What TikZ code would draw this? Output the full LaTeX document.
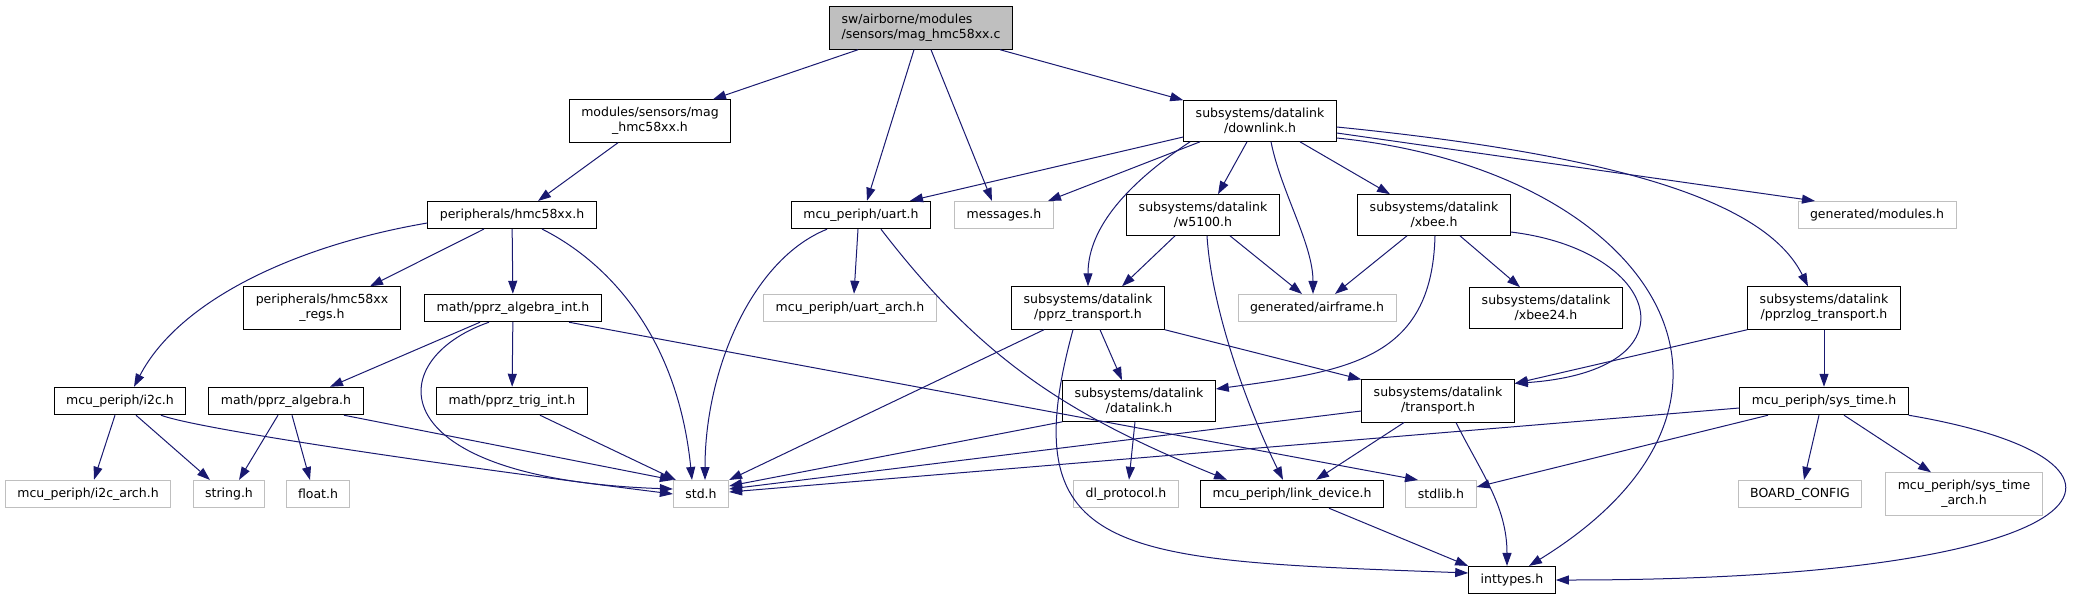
\documentclass[tikz,border=0pt]{standalone}
\usepackage{fontspec}
\setmainfont{DejaVu Sans}
\usepackage{tikz}
\usetikzlibrary{arrows.meta}
\definecolor{incblue}{RGB}{25,25,112}
\definecolor{extgray}{RGB}{191,191,191}
\tikzset{
  hdr/.style={draw=black, fill=white, line width=1pt, align=center, inner xsep=12pt,
    inner ysep=7.5pt, minimum height=27pt, font=\fontsize{12.5}{15}\selectfont},
  exthdr/.style={hdr, draw=extgray},
  srcfile/.style={hdr, fill=extgray, align=left},
  incarr/.style={-{Triangle[length=13pt,width=9pt]}, line width=1pt, incblue}
}
\begin{document}
\begin{tikzpicture}[x=1pt,y=-1pt]
        \useasboundingbox (0,0) rectangle (2073,600);
        \node[srcfile] (src) at (921,28) {sw/airborne/modules\\/sensors/mag\_hmc58xx.c};

        \node[hdr] (maghdr) at (650,121) {modules/sensors/mag\\\_hmc58xx.h};
        \node[hdr] (downlink) at (1260,121) {subsystems/datalink\\/downlink.h};

        \node[hdr] (hmc) at (512,215) {peripherals/hmc58xx.h};
        \node[hdr] (uart) at (861,215) {mcu\_periph/uart.h};
        \node[exthdr] (messages) at (1004,215) {messages.h};
        \node[hdr] (wfive) at (1203,215) {subsystems/datalink\\/w5100.h};
        \node[hdr] (xbee) at (1434,215) {subsystems/datalink\\/xbee.h};
        \node[exthdr] (genmods) at (1877,215) {generated/modules.h};

        \node[hdr] (regs) at (322,308) {peripherals/hmc58xx\\\_regs.h};
        \node[hdr] (algint) at (513,308) {math/pprz\_algebra\_int.h};
        \node[exthdr] (uartarch) at (850,308) {mcu\_periph/uart\_arch.h};
        \node[hdr] (pprztr) at (1088,308) {subsystems/datalink\\/pprz\_transport.h};
        \node[exthdr] (airframe) at (1317,308) {generated/airframe.h};
        \node[hdr] (xbeetf) at (1546,308) {subsystems/datalink\\/xbee24.h};
        \node[hdr] (pprzlog) at (1824,308) {subsystems/datalink\\/pprzlog\_transport.h};

        \node[hdr] (i2c) at (120,401) {mcu\_periph/i2c.h};
        \node[hdr] (algebra) at (286,401) {math/pprz\_algebra.h};
        \node[hdr] (trigint) at (512,401) {math/pprz\_trig\_int.h};
        \node[hdr] (datalink) at (1139,401) {subsystems/datalink\\/datalink.h};
        \node[hdr] (transport) at (1438,401) {subsystems/datalink\\/transport.h};
        \node[hdr] (systime) at (1824,401) {mcu\_periph/sys\_time.h};

        \node[exthdr] (i2carch) at (88,494) {mcu\_periph/i2c\_arch.h};
        \node[exthdr] (string) at (229,494) {string.h};
        \node[exthdr] (float) at (318,494) {float.h};
        \node[exthdr] (std) at (701,494) {std.h};
        \node[exthdr] (dlproto) at (1126,494) {dl\_protocol.h};
        \node[hdr] (linkdev) at (1292,494) {mcu\_periph/link\_device.h};
        \node[exthdr] (stdlib) at (1441,494) {stdlib.h};
        \node[exthdr] (board) at (1800,494) {BOARD\_CONFIG};
        \node[exthdr] (systimearch) at (1964,494) {mcu\_periph/sys\_time\\\_arch.h};

        \node[hdr] (inttypes) at (1512,580) {inttypes.h};

        \draw[incarr] ([xshift=-63pt]src.south) -- ([xshift=63pt]maghdr.north);
        \draw[incarr] ([xshift=-7pt]src.south) -- ([xshift=6pt]uart.north);
        \draw[incarr] ([xshift=10pt]src.south) -- ([xshift=-12pt]messages.north);
        \draw[incarr] ([xshift=79pt]src.south) -- (downlink.north west);

        \draw[incarr] ([xshift=-32pt]maghdr.south) -- ([xshift=26pt]hmc.north);

        \draw[incarr] ([yshift=-16pt]downlink.west) -- ([xshift=49pt]uart.north);
        \draw[incarr] ([xshift=-60pt]downlink.south) -- ([xshift=44pt]messages.north);
        \draw[incarr] ([xshift=-70pt]downlink.south) .. controls +(-60,40) and +(0,-60) .. (pprztr.north);
        \draw[incarr] ([xshift=-13pt]downlink.south) -- ([xshift=15pt]wfive.north);
        \draw[incarr] ([xshift=11pt]downlink.south) .. controls +(10,50) and +(0,-50) .. ([xshift=-4pt]airframe.north);
        \draw[incarr] ([xshift=40pt]downlink.south) -- ([xshift=-44pt]xbee.north);
        \draw[incarr] ([yshift=-12pt]downlink.east) -- ([xshift=-62pt]genmods.north);
        \draw[incarr] ([yshift=-6pt]downlink.east) .. controls +(300,30) and +(-40,-80) .. ([xshift=-16pt]pprzlog.north);
        \draw[incarr] ([yshift=-17pt]downlink.east) .. controls +(314,32) and +(271,-167) .. ([xshift=17pt]inttypes.north);

        \draw[incarr] ([yshift=-8pt]hmc.west) .. controls +(-129,22) and +(46,-88) .. ([xshift=14pt]i2c.north);
        \draw[incarr] ([xshift=-28pt]hmc.south) -- ([xshift=48pt]regs.north);
        \draw[incarr] (hmc) -- (algint);
        \draw[incarr] ([xshift=30pt]hmc.south) .. controls +(60,30) and +(-15,-150) .. ([xshift=-9pt]std.north);

        \draw[incarr] ([xshift=-34pt]uart.south) .. controls +(-75,30) and +(0,-110) .. ([xshift=4pt]std.north);
        \draw[incarr] ([xshift=-3pt]uart.south) -- ([xshift=4pt]uartarch.north);
        \draw[incarr] ([xshift=20pt]uart.south) .. controls +(100,130) and +(-160,-65) .. ([xshift=-65pt]linkdev.north);

        \draw[incarr] ([xshift=-28pt]wfive.south) -- ([xshift=34pt]pprztr.north);
        \draw[incarr] ([xshift=27pt]wfive.south) -- ([xshift=-15pt]airframe.north);
        \draw[incarr] ([xshift=4pt]wfive.south) .. controls +(5,80) and +(-30,-60) .. ([xshift=-9pt]linkdev.north);

        \draw[incarr] ([xshift=-27pt]xbee.south) -- ([xshift=18pt]airframe.north);
        \draw[incarr] ([xshift=1pt]xbee.south) .. controls +(-3,124) and +(132,-18) .. ([yshift=12pt]datalink.east);
        \draw[incarr] ([xshift=26pt]xbee.south) -- ([xshift=-26pt]xbeetf.north);
        \draw[incarr] ([yshift=-17pt]xbee.east) .. controls +(150,18) and +(185,-13) .. ([yshift=-4pt]transport.north east);

        \draw[incarr] ([xshift=-44pt]pprztr.south) -- (std.north east);
        \draw[incarr] ([xshift=-15pt]pprztr.south) .. controls +(-63,230) and +(-348,-13) .. ([yshift=7pt]inttypes.west);
        \draw[incarr] ([xshift=12pt]pprztr.south) -- ([xshift=-17pt]datalink.north);
        \draw[incarr] (pprztr.south east) -- (transport.north west);

        \draw[incarr] (datalink.south west) -- ([yshift=8pt]std.east);
        \draw[incarr] ([xshift=-4pt]datalink.south) -- ([xshift=3pt]dlproto.north);

        \draw[incarr] ([yshift=-10pt]transport.west) -- ([yshift=5pt]std.east);
        \draw[incarr] ([xshift=-34pt]transport.south) -- ([xshift=24pt]linkdev.north);
        \draw[incarr] ([xshift=18pt]transport.south) .. controls +(25,50) and +(0,-60) .. ([xshift=-5pt]inttypes.north);

        \draw[incarr] (pprzlog.south west) -- ([yshift=-4pt]transport.north east);
        \draw[incarr] (pprzlog) -- (systime);

        \draw[incarr] ([xshift=-5pt]i2c.south) -- ([xshift=6pt]i2carch.north);
        \draw[incarr] ([xshift=16pt]i2c.south) -- ([xshift=-19pt]string.north);
        \draw[incarr] ([xshift=41pt]i2c.south) .. controls +(40,15) and +(-200,-25) .. (std.west);

        \draw[incarr] ([xshift=-8pt]algebra.south) -- ([xshift=10pt]string.north);
        \draw[incarr] ([xshift=6pt]algebra.south) -- ([xshift=-8pt]float.north);
        \draw[incarr] ([xshift=58pt]algebra.south) -- (std.north west);

        \draw[incarr] ([xshift=-33pt]algint.south) -- ([xshift=44pt]algebra.north);
        \draw[incarr] ([xshift=-24pt]algint.south) .. controls +(-109,38) and +(-294,-10) .. ([yshift=5pt]std.west);
        \draw[incarr] (algint) -- (trigint);
        \draw[incarr] ([xshift=56pt]algint.south) -- ([xshift=-23pt]stdlib.north);

        \draw[incarr] ([xshift=28pt]trigint.south) -- ([xshift=3pt]std.north west);

        \draw[incarr] ([yshift=-7pt]systime.west) -- ([yshift=2pt]std.east);
        \draw[incarr] ([xshift=-56pt]systime.south) -- ([yshift=7pt]stdlib.east);
        \draw[incarr] ([xshift=-5pt]systime.south) -- ([xshift=4pt]board.north);
        \draw[incarr] ([xshift=20pt]systime.south) -- ([xshift=-33pt]systimearch.north);
        \draw[incarr] (systime.south east) .. controls +(271,46) and +(565,0) .. (inttypes.east);

        \draw[incarr] ([xshift=37pt]linkdev.south) -- (inttypes.north west);
      \end{tikzpicture}
\end{document}
